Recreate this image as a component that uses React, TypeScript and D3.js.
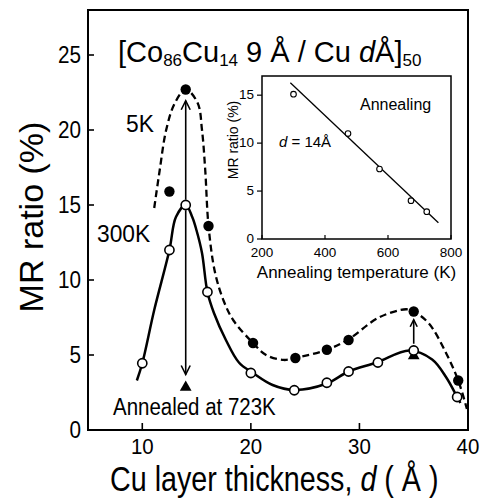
import React from "react";
import * as d3 from "d3";

// ---- main data ----
const d300K = [10, 12.5, 14, 16, 20, 24, 27, 29, 31.7, 35, 39];
const mr300K = [4.45, 12, 15, 9.2, 3.8, 2.65, 3.15, 3.9, 4.5, 5.3, 2.2];
const d5K = [12.5, 14, 16.1, 20.2, 24.1, 27, 29, 35, 39.1];
const mr5K = [15.9, 22.7, 13.6, 5.8, 4.8, 5.35, 6.0, 7.9, 3.3];
const dAnnealed = [14, 35];
const mrAnnealed = [2.85, 4.95];

// hand-drawn guide curves
const guide300K_d = [9.5, 10, 11.1, 12.5, 13.1, 14, 14.6, 15.0, 15.5, 16.0, 16.6, 17.7, 18.9, 20.2, 22, 24, 27, 29, 31.6, 34.6, 36.7, 38, 39, 39.3];
const guide300K_mr = [3.3, 4.45, 8, 12, 14.2, 15, 14.2, 13.3, 11.8, 9.2, 7.8, 6.0, 4.5, 3.8, 3.0, 2.67, 3.1, 3.9, 4.5, 5.3, 4.7, 3.5, 2.2, 1.8];
const guide5K_d = [11.1, 11.6, 12.2, 13, 14, 15.1, 15.5, 15.8, 16.1, 16.7, 17.5, 18.4, 20.2, 21.4, 23, 24.1, 27, 28.9, 31.8, 34.3, 35, 36.4, 38, 39.1, 39.9];
const guide5K_mr = [14.8, 17.3, 20, 21.8, 22.7, 21.8, 20, 17.3, 13.6, 10.5, 8.6, 7.3, 5.8, 5.0, 4.67, 4.8, 5.35, 6.0, 7.5, 8.05, 7.9, 7.1, 5.1, 3.3, 1.4];

// arrows
const arrowD = [14, 14, 35];
const arrowFrom = [15.35, 14.65, 5.75];
const arrowTo = [21.95, 3.7, 7.35];

const xTicks = [10, 20, 30, 40];
const yTicks = [0, 5, 10, 15, 20, 25];

// ---- inset data ----
const annealT = [300, 473, 573, 673, 723];
const annealMR = [15.1, 11.0, 7.3, 4.0, 2.85];
const fitT = [290, 760];
const fitMR = [16.3, 1.7];
const insetXTicks = [200, 400, 600, 800];
const insetYTicks = [0, 5, 10, 15];

const FONT = "'Liberation Sans', Arial, Helvetica, sans-serif";

function SText(props: any) {
  const { x, y, sx = 1, sy = 1, children, ...rest } = props;
  return (
    <text transform={`translate(${x},${y}) scale(${sx},${sy})`} {...rest}>
      {children}
    </text>
  );
}

export default function App() {
  const x = d3.scaleLinear().domain([5, 40]).range([88, 468]);
  const y = d3.scaleLinear().domain([0, 28]).range([430, 10]);
  const ix = d3.scaleLinear().domain([200, 800]).range([262, 451]);
  const iy = d3.scaleLinear().domain([0, 17]).range([239, 76]);

  const line = d3
    .line<[number, number]>()
    .x((p) => x(p[0]))
    .y((p) => y(p[1]))
    .curve(d3.curveCatmullRom.alpha(0.5));
  const g300 = guide300K_d.map((d, i) => [d, guide300K_mr[i]] as [number, number]);
  const g5 = guide5K_d.map((d, i) => [d, guide5K_mr[i]] as [number, number]);

  const insetLine = d3
    .line<[number, number]>()
    .x((p) => ix(p[0]))
    .y((p) => iy(p[1]));
  const fit = fitT.map((t, i) => [t, fitMR[i]] as [number, number]);

  return (
    <svg
      width={483}
      height={498}
      style={{ position: "absolute", left: 0, top: 0, background: "#fff" }}
      fontFamily={FONT}
    >
      <rect x={0} y={0} width={483} height={498} fill="#fff" />

      {/* main frame */}
      <rect x={x(5)} y={y(28)} width={x(40) - x(5)} height={y(0) - y(28)} fill="none" stroke="#000" strokeWidth={2} />

      {/* ticks */}
      {xTicks.map((t) => (
        <g key={"xt" + t}>
          <line x1={x(t)} x2={x(t)} y1={y(0)} y2={y(0) - 7} stroke="#000" strokeWidth={1.6} />
          <SText x={x(t)} y={454} sx={0.93} fontSize={22} textAnchor="middle">{t}</SText>
        </g>
      ))}
      {yTicks.map((t) => (
        <g key={"yt" + t}>
          <line x1={x(5)} x2={x(5) + 6} y1={y(t)} y2={y(t)} stroke="#000" strokeWidth={1.6} />
          <SText x={81} y={y(t) + 8} sx={0.9} fontSize={23} textAnchor="end">{t}</SText>
        </g>
      ))}

      {/* axis titles */}
      <SText x={110} y={491} sx={0.82} fontSize={35}>
        Cu layer thickness, <tspan fontStyle="italic">d</tspan> ( Å )
      </SText>
      <text transform="translate(43,217) rotate(-90)" fontSize={34} textAnchor="middle">
        MR ratio (%)
      </text>

      {/* title */}
      <text x={118} y={62} fontSize={29}>
        [Co<tspan fontSize={17} dy={4}>86</tspan>
        <tspan dy={-4}>Cu</tspan>
        <tspan fontSize={17} dy={4}>14</tspan>
        <tspan dy={-4}> 9 Å / Cu </tspan>
        <tspan fontStyle="italic">d</tspan>Å]
        <tspan fontSize={17} dy={4}>50</tspan>
      </text>

      {/* guide curves */}
      <path d={line(g5) || ""} fill="none" stroke="#000" strokeWidth={2.3} strokeDasharray="7 4" />
      <path d={line(g300) || ""} fill="none" stroke="#000" strokeWidth={2.5} />

      {/* arrows */}
      {arrowD.map((d, i) => {
        const dir = arrowTo[i] > arrowFrom[i] ? 1 : -1;
        const tx = x(d);
        const ty = y(arrowTo[i]);
        const hl = i === 2 ? 7 : 9;
        const hw = i === 2 ? 3.5 : 4.5;
        return (
          <g key={"ar" + i}>
            <line x1={tx} x2={tx} y1={y(arrowFrom[i])} y2={ty} stroke="#000" strokeWidth={1.6} />
            <polyline
              points={`${tx - hw},${ty + dir * hl} ${tx},${ty} ${tx + hw},${ty + dir * hl}`}
              fill="none"
              stroke="#000"
              strokeWidth={1.6}
            />
          </g>
        );
      })}

      {/* annealed triangles */}
      {dAnnealed.map((d, i) => (
        <path
          key={"tri" + i}
          d={d3.symbol().type(d3.symbolTriangle).size(60)() || ""}
          transform={`translate(${x(d)},${y(mrAnnealed[i])})`}
          fill="#000"
        />
      ))}

      {/* 5K filled */}
      {d5K.map((d, i) => (
        <circle key={"f" + i} cx={x(d)} cy={y(mr5K[i])} r={5.2} fill="#000" />
      ))}
      {/* 300K open */}
      {d300K.map((d, i) => (
        <circle key={"o" + i} cx={x(d)} cy={y(mr300K[i])} r={4.6} fill="#fff" stroke="#000" strokeWidth={1.6} />
      ))}

      {/* labels */}
      <SText x={126} y={132} sx={0.95} fontSize={24}>5K</SText>
      <SText x={97} y={242} sx={0.95} fontSize={24}>300K</SText>
      <SText x={113} y={415} sx={0.89} fontSize={23}>Annealed at 723K</SText>

      {/* inset */}
      <rect x={ix(200)} y={iy(17)} width={ix(800) - ix(200)} height={iy(0) - iy(17)} fill="#fff" stroke="#000" strokeWidth={1.5} />
      {insetXTicks.map((t) => (
        <g key={"ixt" + t}>
          <line x1={ix(t)} x2={ix(t)} y1={iy(0)} y2={iy(0) - 4} stroke="#000" strokeWidth={1.2} />
          <text x={ix(t)} y={257} fontSize={13.5} textAnchor="middle">{t}</text>
        </g>
      ))}
      {insetYTicks.map((t) => (
        <g key={"iyt" + t}>
          <line x1={ix(200)} x2={ix(200) - 5} y1={iy(t)} y2={iy(t)} stroke="#000" strokeWidth={1.2} />
          <text x={254} y={iy(t) + 4} fontSize={13.5} textAnchor="end">{t}</text>
        </g>
      ))}
      <text x={(ix(200) + ix(800)) / 2} y={278} fontSize={17} textAnchor="middle">Annealing temperature (K)</text>
      <text transform="translate(238,140) rotate(-90)" fontSize={14} textAnchor="middle">MR ratio (%)</text>
      <path d={insetLine(fit) || ""} fill="none" stroke="#000" strokeWidth={1.3} />
      {annealT.map((t, i) => (
        <circle key={"ic" + i} cx={ix(t)} cy={iy(annealMR[i])} r={2.8} fill="#fff" stroke="#000" strokeWidth={1.1} />
      ))}
      <text x={360} y={110} fontSize={16}>Annealing</text>
      <text x={279} y={147} fontSize={15}>
        <tspan fontStyle="italic">d</tspan> = 14Å
      </text>
    </svg>
  );
}
